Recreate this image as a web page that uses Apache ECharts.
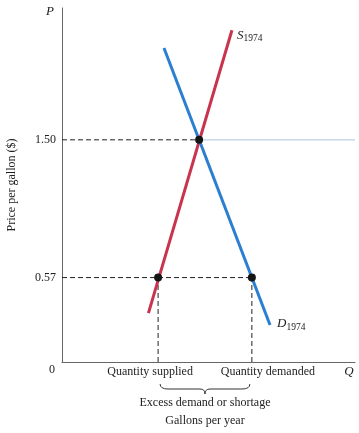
<!DOCTYPE html>
<html><head><meta charset="utf-8">
<script src="https://cdn.jsdelivr.net/npm/echarts@6/dist/echarts.min.js"></script>
<style>html,body{margin:0;padding:0;background:#fff}#c{width:359px;height:433px}</style>
</head><body><div id="c"></div>
<script>
// Data (quantity in arbitrary gallon units, price in $)
const priceTicks = [0.57, 1.50];
const supplyLine = [[2.95, 0.33], [5.80, 2.24]];
const demandLine = [[3.48, 2.12], [7.10, 0.25]];
const equilibrium = [4.68, 1.50];
const qSupplied = 3.28;
const qDemanded = 6.48;
const ceilingPrice = 0.57;
const xMax = 10;
const yMax = 2.39;

const serif = 'Liberation Serif';
const chart = echarts.init(document.getElementById('c'), null, {renderer: 'canvas'});
const dash = {color: '#222', width: 1, type: [5, 3]};
function seg(data, style, z) {
  return {type: 'line', data, symbol: 'none', lineStyle: style, silent: true, z: z || 2};
}
const subRich = {
  a: {fontFamily: serif, fontStyle: 'italic', fontSize: 13, color: '#222'},
  b: {fontFamily: serif, fontSize: 9.5, color: '#222', padding: [7, 0, 0, 0]}
};
chart.setOption({
  animation: false,
  grid: {left: 62, top: 8, width: 293, height: 354, outerBoundsMode: 'none', containLabel: false},
  xAxis: {type: 'value', min: 0, max: xMax, axisLine: {lineStyle: {color: '#666', width: 1}}, axisTick: {show: false}, axisLabel: {show: false}, splitLine: {show: false}},
  yAxis: {type: 'value', min: 0, max: yMax,
    name: 'Price per gallon ($)', nameLocation: 'middle', nameGap: 44,
    nameTextStyle: {fontFamily: serif, fontSize: 12, color: '#222'},
    axisLine: {show: true, lineStyle: {color: '#666', width: 1}}, axisTick: {show: false},
    axisLabel: {customValues: priceTicks, formatter: v => v.toFixed(2), fontFamily: serif, fontSize: 12, color: '#222', margin: 6},
    splitLine: {show: false}},
  series: [
    seg([[0, equilibrium[1]], equilibrium], dash),
    seg([equilibrium, [xMax, equilibrium[1]]], {color: '#b8d0e4', width: 1.2}),
    seg([[0, ceilingPrice], [qDemanded, ceilingPrice]], dash),
    seg([[qSupplied, 0], [qSupplied, ceilingPrice]], dash),
    seg([[qDemanded, 0], [qDemanded, ceilingPrice]], dash),
    {type: 'line', data: supplyLine, symbol: 'none', lineStyle: {color: '#c8334e', width: 3}, z: 3,
      endLabel: {show: true, distance: 5, offset: [0, 5], formatter: '{a|S}{b|1974}', rich: subRich}},
    {type: 'line', data: demandLine, symbol: 'none', lineStyle: {color: '#2b7fd0', width: 3}, z: 3,
      endLabel: {show: true, distance: 7, offset: [0, -1], formatter: '{a|D}{b|1974}', rich: subRich}},
    {type: 'scatter', data: [equilibrium, [qSupplied, ceilingPrice], [qDemanded, ceilingPrice]], symbolSize: 8, itemStyle: {color: '#151515', opacity: 1}, z: 5}
  ]
});
const o = chart.convertToPixel({gridIndex: 0}, [0, 0]);
const pS = chart.convertToPixel({gridIndex: 0}, [qSupplied, 0]);
const pD = chart.convertToPixel({gridIndex: 0}, [qDemanded, 0]);
const pTop = chart.convertToPixel({gridIndex: 0}, [0, yMax]);
const pRight = chart.convertToPixel({gridIndex: 0}, [xMax, 0]);
const mid = (pS[0] + pD[0]) / 2;
const txt = (x, y, s, extra) => ({type: 'text', x, y, style: Object.assign({text: s, fontFamily: serif, fontSize: 12, fill: '#222', align: 'center', verticalAlign: 'middle'}, extra || {})});
const bY = o[1] + 22;
const bs = {stroke: '#333', lineWidth: 1, fill: null};
chart.setOption({graphic: [
  txt(o[0] - 10, o[1] + 8, '0'),
  txt(o[0] - 12, pTop[1] + 4, 'P', {fontStyle: 'italic', fontSize: 13}),
  txt(pRight[0] - 6, o[1] + 10, 'Q', {fontStyle: 'italic', fontSize: 13}),
  txt(pS[0] - 8, o[1] + 10, 'Quantity supplied'),
  txt(pD[0] + 16, o[1] + 10, 'Quantity demanded'),
  txt(mid, o[1] + 41, 'Excess demand or shortage'),
  txt(mid, o[1] + 59, 'Gallons per year'),
  {type: 'bezierCurve', shape: {x1: pS[0] + 2, y1: bY, cpx1: pS[0] + 2, cpy1: bY + 5, x2: pS[0] + 10, y2: bY + 5}, style: bs},
  {type: 'line', shape: {x1: pS[0] + 10, y1: bY + 5, x2: mid - 5, y2: bY + 5}, style: bs},
  {type: 'bezierCurve', shape: {x1: mid - 5, y1: bY + 5, cpx1: mid, cpy1: bY + 5, x2: mid, y2: bY + 10}, style: bs},
  {type: 'bezierCurve', shape: {x1: mid, y1: bY + 10, cpx1: mid, cpy1: bY + 5, x2: mid + 5, y2: bY + 5}, style: bs},
  {type: 'line', shape: {x1: mid + 5, y1: bY + 5, x2: pD[0] - 10, y2: bY + 5}, style: bs},
  {type: 'bezierCurve', shape: {x1: pD[0] - 10, y1: bY + 5, cpx1: pD[0] - 2, cpy1: bY + 5, x2: pD[0] - 2, y2: bY}, style: bs}
]});
</script></body></html>
